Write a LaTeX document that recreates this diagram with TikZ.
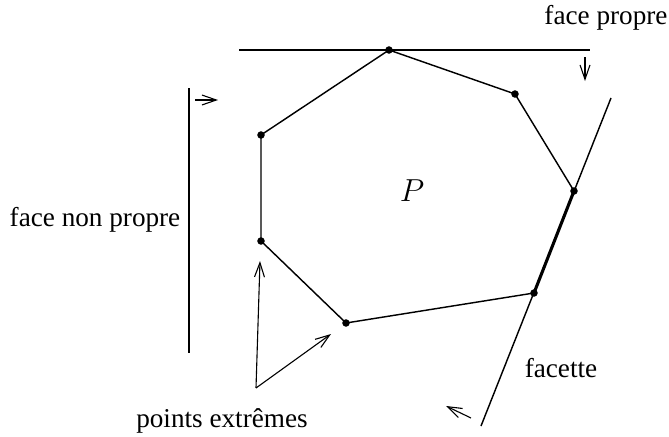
\documentclass[tikz,border=0pt]{standalone}
\usepackage{fontspec}
\setmainfont{Liberation Serif}
\usetikzlibrary{arrows.meta}

\begin{document}
\begin{tikzpicture}[
  x=0.0159cm, y=-0.0159cm,
  >={Straight Barb[length=6.5pt, width=4.5pt]},
  font=\fontsize{12.3}{15}\selectfont,
  vertex/.style={circle, fill, inner sep=0pt, minimum size=3.4pt},
  edge/.style={line width=0.65pt},
  support/.style={line width=0.65pt},
  arr/.style={->, line width=0.5pt},
  lbl/.style={inner sep=1pt},
]
  \useasboundingbox (0,0) rectangle (669,436);

  % Polytope vertices
  \node[vertex] (a) at (389,50) {};
  \node[vertex] (b) at (515,94) {};
  \node[vertex] (c) at (574,191) {};
  \node[vertex] (d) at (534,293) {};
  \node[vertex] (e) at (346,323) {};
  \node[vertex] (f) at (261,241) {};
  \node[vertex] (g) at (261,135) {};

  % Polytope edges
  \draw[edge] (a.center) -- (b.center) -- (c.center);
  \draw[edge] (d.center) -- (e.center) -- (f.center) -- (g.center) -- (a.center);
  \draw[line width=1.4pt] (c.center) -- (d.center);

  \node[font=\fontsize{15}{17}\selectfont] (p) at (412,191) {$P$};

  % Supporting line through a vertex (proper face)
  \coordinate (top-l) at (239,50);
  \coordinate (top-r) at (590,50);
  \draw[support] (top-l) -- (top-r);
  \coordinate (top-arr-s) at (585,57);
  \coordinate (top-arr-e) at (585,81);
  \draw[arr] (top-arr-s) -- (top-arr-e);
  \node[lbl] (propre) at (606,18) {face propre};

  % Supporting line away from P (improper face)
  \coordinate (left-t) at (189,88);
  \coordinate (left-b) at (189,353);
  \draw[support] (left-t) -- (left-b);
  \coordinate (left-arr-s) at (195,100);
  \coordinate (left-arr-e) at (218,100);
  \draw[arr] (left-arr-s) -- (left-arr-e);
  \node[lbl] (nonpropre) at (95,220) {face non propre};

  % Supporting line along an edge (facet)
  \coordinate (facet-t) at (611,98);
  \coordinate (facet-b) at (481,426);
  \draw[support] (facet-t) -- (facet-b);
  \coordinate (facet-arr-s) at (471,418);
  \coordinate (facet-arr-e) at (446,406);
  \draw[arr] (facet-arr-s) -- (facet-arr-e);
  \node[lbl] (facette) at (561,368) {facette};

  % Extreme points
  \coordinate (ext) at (256,388);
  \coordinate (ext-f) at (260,261);
  \coordinate (ext-e) at (331,334);
  \draw[arr] (ext) -- (ext-f);
  \draw[arr] (ext) -- (ext-e);
  \node[lbl] (extremes) at (222,421) {points extrêmes};
\end{tikzpicture}
\end{document}
